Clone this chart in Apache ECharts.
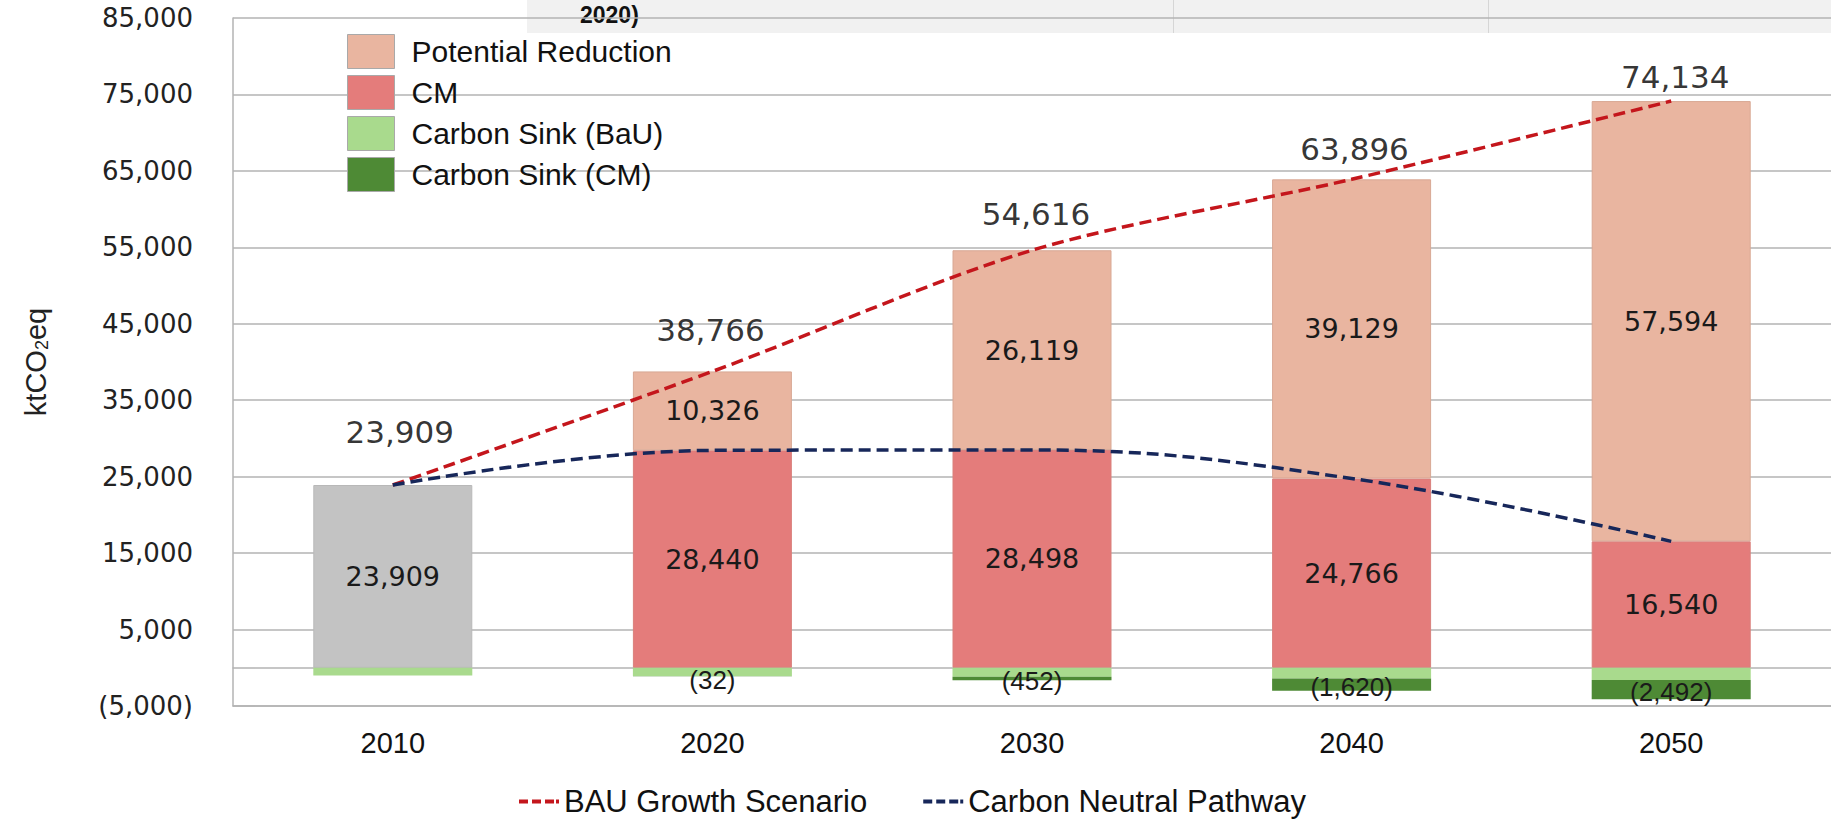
<!DOCTYPE html>
<html>
<head>
<meta charset="utf-8">
<script src="https://cdn.jsdelivr.net/npm/echarts@6/dist/echarts.min.js"></script>
<style>
html,body{margin:0;padding:0;background:#ffffff;}
#chart{width:1831px;height:821px;}
</style>
</head>
<body>
<div id="chart"></div>
<script>
// ---- data ----
const years = ['2010', '2020', '2030', '2040', '2050'];
const base2010 = [23909, null, null, null, null];
const cmEmissions = [null, 28440, 28498, 24766, 16540];
const potentialReduction = [null, 10326, 26119, 39129, 57594];
const carbonSinkBaU = [-1000, -1080, -1170, -1390, -1610];
const carbonSinkCM = [null, -32, -452, -1620, -2492];
const totals = [23909, 38766, 54616, 63896, 74134];
const bauGrowthScenario = [23909, 38766, 54616, 63896, 74134];
const carbonNeutralPathway = [23909, 28440, 28498, 24766, 16540];
const yMin = -5000, yMax = 85000, yStep = 10000;

// ---- label styling (not data) ----
const totalLabelLift = [37, 25, 20, 14, 8];
const totalLabelShift = [7, -2, 4, 3, 4];
const sinkLabelDrop = [0, 4, 3, 2, 2];

const NUM_FONT = "'DejaVu Sans', 'Liberation Sans', sans-serif";
const TXT_FONT = "'Liberation Sans', Arial, Helvetica, sans-serif";
const DASH_ICON = 'path://M0,0h9v4h-9z M13,0h9v4h-9z M26,0h9v4h-9z M37,0h3v4h-3z';

const fmt = v => {
  const s = Math.abs(v).toLocaleString('en-US');
  return v < 0 ? '(' + s + ')' : s;
};
const toSeries = arr => arr.map(v => (v === null ? '-' : v));

const chart = echarts.init(document.getElementById('chart'), null, { renderer: 'svg' });

const grey = '#b3b3b3';

const innerLabel = {
  show: true,
  position: 'inside',
  fontFamily: NUM_FONT,
  fontSize: 27,
  color: '#1a1a1a',
  formatter: p => fmt(p.value)
};

const option = {
  backgroundColor: '#ffffff',
  animation: false,
  graphic: [
    { type: 'rect', left: 527, top: 0, z: -10, shape: { width: 1304, height: 33 }, style: { fill: '#f1f1f1' } },
    { type: 'rect', left: 1173, top: 0, z: -9, shape: { width: 1, height: 33 }, style: { fill: '#d6d6d6' } },
    { type: 'rect', left: 1488, top: 0, z: -9, shape: { width: 1, height: 33 }, style: { fill: '#d6d6d6' } },
    { type: 'text', left: 580, top: 3, z: -8, style: { text: '2020)', font: "bold 23px 'Liberation Sans', Arial", fill: '#111' } }
  ],
  grid: { left: 233, right: 0, top: 18, bottom: 115, containLabel: false },
  legend: [
    {
      data: ['Potential Reduction', 'CM', 'Carbon Sink (BaU)', 'Carbon Sink (CM)'],
      orient: 'vertical',
      left: 342,
      top: 29,
      itemWidth: 47,
      itemHeight: 34,
      itemGap: 6,
      icon: 'rect',
      itemStyle: { borderColor: '#a9a9a9', borderWidth: 1 },
      textStyle: { fontFamily: TXT_FONT, fontSize: 30, color: '#111', padding: [3, 0, 0, 12] },
      selectedMode: false
    },
    {
      data: [
        { name: 'BAU Growth Scenario', icon: DASH_ICON },
        { name: 'Carbon Neutral Pathway', icon: DASH_ICON }
      ],
      orient: 'horizontal',
      left: 514,
      top: 781,
      itemWidth: 40,
      itemHeight: 4,
      itemGap: 56,
      textStyle: { fontFamily: TXT_FONT, fontSize: 31, color: '#111' },
      selectedMode: false
    }
  ],
  xAxis: [
    {
      type: 'category',
      data: years,
      position: 'bottom',
      axisLine: { onZero: false, lineStyle: { color: grey, width: 1.5 } },
      axisTick: { show: false },
      axisLabel: { margin: 22, fontFamily: TXT_FONT, fontSize: 29, color: '#111' },
      splitLine: { show: false }
    },
    {
      type: 'category',
      data: years,
      position: 'bottom',
      axisLine: { onZero: true, lineStyle: { color: grey, width: 1.5 } },
      axisTick: { show: false },
      axisLabel: { show: false },
      splitLine: { show: false }
    }
  ],
  yAxis: {
    type: 'value',
    min: yMin,
    max: yMax,
    interval: yStep,
    axisLine: { show: true, lineStyle: { color: grey, width: 1.5 } },
    axisTick: { show: false },
    splitLine: { show: true, lineStyle: { color: grey, width: 1.5 } },
    axisLabel: { margin: 40, fontFamily: NUM_FONT, fontSize: 26, color: '#222', formatter: v => fmt(v) },
    name: 'ktCO{s|2}eq',
    nameLocation: 'middle',
    nameRotate: 90,
    nameGap: 182,
    nameTextStyle: {
      fontFamily: TXT_FONT, fontSize: 29, color: '#222',
      rich: { s: { fontFamily: TXT_FONT, fontSize: 18, color: '#222', padding: [13, 0, 0, 0] } }
    }
  },
  series: [
    {
      name: '2010', type: 'bar', stack: 'total', barWidth: 159,
      data: toSeries(base2010),
      itemStyle: { color: '#c3c3c3', borderColor: '#b8b8b8', borderWidth: 1 },
      label: innerLabel
    },
    {
      name: 'CM', type: 'bar', stack: 'total', barWidth: 159,
      data: toSeries(cmEmissions),
      itemStyle: { color: '#e47c7b', borderColor: '#d9807c', borderWidth: 1 },
      label: innerLabel
    },
    {
      name: 'Potential Reduction', type: 'bar', stack: 'total', barWidth: 159,
      data: toSeries(potentialReduction),
      itemStyle: { color: '#e9b5a0', borderColor: '#d8a894', borderWidth: 1 },
      label: innerLabel
    },
    {
      name: 'Carbon Sink (BaU)', type: 'bar', stack: 'total', barWidth: 159,
      data: toSeries(carbonSinkBaU),
      itemStyle: { color: '#a9da8d' }
    },
    {
      name: 'Carbon Sink (CM)', type: 'bar', stack: 'total', barWidth: 159,
      data: toSeries(carbonSinkCM).map((v, i) => (v === '-' ? v : {
        value: v,
        label: { offset: [0, sinkLabelDrop[i]] }
      })),
      itemStyle: { color: '#4e8a35' },
      label: {
        show: true, position: 'inside', fontFamily: TXT_FONT, fontSize: 26, color: '#1a1a1a',
        formatter: p => fmt(p.value)
      },
      z: 3
    },
    {
      name: 'Totals', type: 'scatter',
      data: totals.map((v, i) => ({
        value: v,
        label: { offset: [totalLabelShift[i], -totalLabelLift[i]] }
      })),
      symbolSize: 1,
      itemStyle: { color: 'rgba(255,255,255,0)' },
      silent: true,
      z: 12,
      label: {
        show: true, position: 'top', distance: 0,
        fontFamily: NUM_FONT, fontSize: 31, color: '#000',
        formatter: p => fmt(p.value)
      }
    },
    {
      name: 'BAU Growth Scenario', type: 'line',
      data: bauGrowthScenario,
      smooth: 0.3,
      symbol: 'none',
      itemStyle: { color: '#c4161c' },
      lineStyle: { color: '#c4161c', width: 3.5, type: [12, 6] },
      z: 10
    },
    {
      name: 'Carbon Neutral Pathway', type: 'line',
      data: carbonNeutralPathway,
      smooth: 0.4,
      symbol: 'none',
      itemStyle: { color: '#17275a' },
      lineStyle: { color: '#17275a', width: 3.5, type: [12, 6] },
      z: 10
    }
  ]
};

chart.setOption(option);
</script>
</body>
</html>
